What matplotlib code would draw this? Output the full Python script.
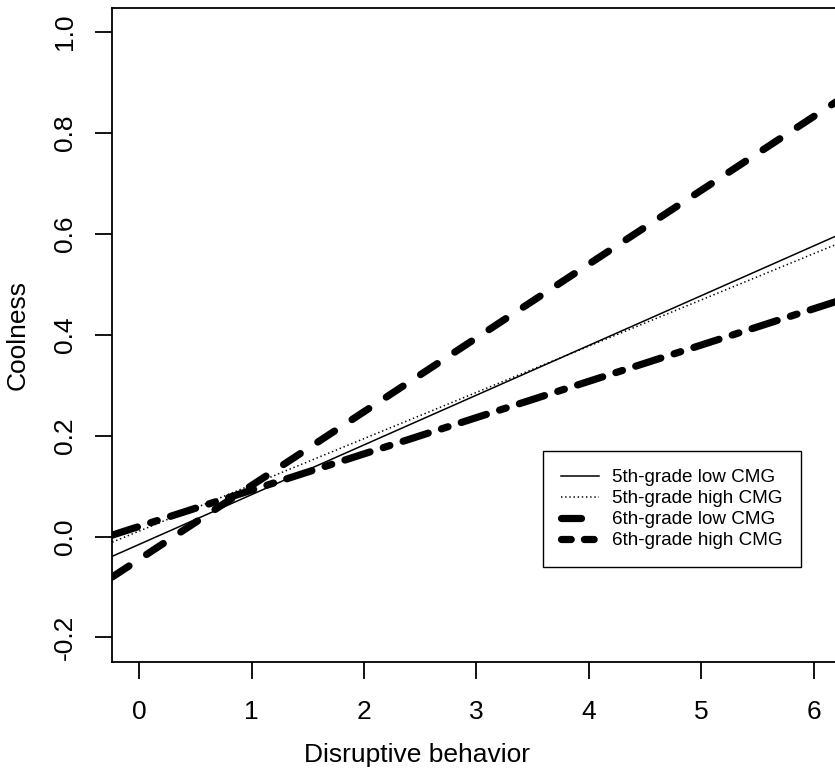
import matplotlib
matplotlib.use("Agg")
import matplotlib.pyplot as plt

plt.rcParams['font.family'] = ['Liberation Sans', 'DejaVu Sans']
plt.rcParams['lines.scale_dashes'] = False

# line endpoints (x at the plot edges)
x_ends = [-0.24, 6.24]
low5 = [-0.039, 0.600]
high5 = [-0.011, 0.583]
low6 = [-0.080, 0.868]
high6 = [0.003, 0.469]

labels = ["5th-grade low CMG", "5th-grade high CMG",
          "6th-grade low CMG", "6th-grade high CMG"]

W, H = 835, 771
fig = plt.figure(figsize=(W / 100, H / 100), dpi=100)
ax = fig.add_axes([112.3 / W, 1 - 661.7 / H, 728.4 / W, 653.7 / H])

ax.plot(x_ends, low5, color='black', lw=1.1, label=labels[0])
ax.plot(x_ends, high5, color='black', lw=1.1, dashes=(1.0, 2.0),
        label=labels[1])
ax.plot(x_ends, low6, color='black', lw=5.2, dashes=(14.4, 15.1),
        dash_capstyle='round', solid_capstyle='round', label=labels[2])
ax.plot(x_ends, high6, color='black', lw=5.2, dashes=(19, 10, 5, 10),
        dash_capstyle='round', solid_capstyle='round', label=labels[3])

ax.set_xlim(-0.24, 6.24)
ax.set_ylim(-0.248, 1.048)
ax.set_xticks(range(0, 7))
ax.set_yticks([-0.2, 0.0, 0.2, 0.4, 0.6, 0.8, 1.0])
ax.set_yticklabels(['-0.2', '0.0', '0.2', '0.4', '0.6', '0.8', '1.0'],
                   rotation=90, va='center')
ax.tick_params(length=12, width=1.3, labelsize=19)
ax.tick_params(axis='x', pad=15.5)
ax.tick_params(axis='y', pad=13.5)

for s in ax.spines.values():
    s.set_linewidth(1.3)

ax.set_xlabel("Disruptive behavior", fontsize=19)
ax.set_ylabel("Coolness", fontsize=19)
ax.xaxis.set_label_coords(0.5, 1 - 743 / H, transform=fig.transFigure)
ax.yaxis.set_label_coords(30 / W, 1 - 334.5 / H, transform=fig.transFigure)

leg = ax.legend(loc='upper left', bbox_to_anchor=(543 / W, 1 - 451 / H),
                bbox_transform=fig.transFigure, fontsize=13.6, frameon=True,
                fancybox=False, edgecolor='black', framealpha=1,
                handlelength=2.0, handletextpad=0.7, borderpad=0.95,
                labelspacing=0.2, borderaxespad=0)
leg.get_frame().set_linewidth(1.0)
leg.get_lines()[3].set_dashes((7, 9.5))

fig.savefig("out.png", dpi=100)
